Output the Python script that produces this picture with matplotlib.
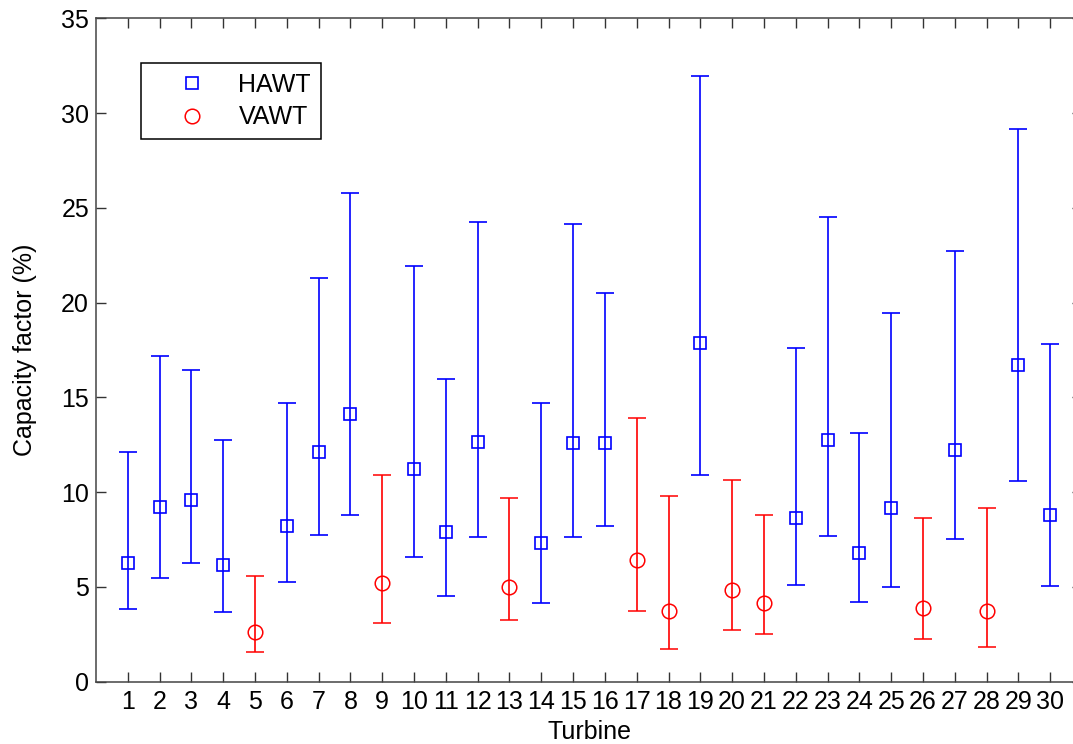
import matplotlib
matplotlib.use('Agg')
import matplotlib.pyplot as plt

# 水平轴风机 (HAWT)
hawt_turbine = [1, 2, 3, 4, 6, 7, 8, 10, 11, 12, 14, 15, 16, 19, 22, 23, 24, 25, 27, 29, 30]
hawt_cf = [6.25, 9.20, 9.59, 6.16, 8.23, 12.12, 14.13, 11.22, 7.90, 12.67, 7.34,
           12.61, 12.61, 17.89, 8.66, 12.75, 6.79, 9.18, 12.23, 16.71, 8.80]
hawt_low = [3.84, 5.49, 6.28, 3.69, 5.28, 7.76, 8.80, 6.60, 4.51, 7.64, 4.17,
            7.62, 8.22, 10.89, 5.12, 7.67, 4.21, 4.98, 7.55, 10.59, 5.03]
hawt_high = [12.14, 17.19, 16.43, 12.77, 14.71, 21.30, 25.79, 21.94, 15.96, 24.24, 14.71,
             24.15, 20.51, 31.93, 17.59, 24.51, 13.12, 19.46, 22.73, 29.15, 17.84]

# 垂直轴风机 (VAWT)
vawt_turbine = [5, 9, 13, 17, 18, 20, 21, 26, 28]
vawt_cf = [2.61, 5.19, 5.00, 6.42, 3.75, 4.84, 4.17, 3.91, 3.71]
vawt_low = [1.57, 3.10, 3.26, 3.75, 1.73, 2.74, 2.52, 2.27, 1.85]
vawt_high = [5.58, 10.92, 9.69, 13.93, 9.80, 10.63, 8.80, 8.66, 9.15]

x_ticks = list(range(1, 31))
y_ticks = [0, 5, 10, 15, 20, 25, 30, 35]

plt.rcParams['font.family'] = ['Liberation Sans', 'DejaVu Sans']
fs = 18

W, H = 1073, 744
fig = plt.figure(figsize=(W / 100, H / 100), dpi=100)
ax = fig.add_axes([96 / W, 62.3 / H, 986 / W, 663.4 / H])

# 误差棒
err_h = [[c - l for c, l in zip(hawt_cf, hawt_low)],
         [h - c for c, h in zip(hawt_cf, hawt_high)]]
err_v = [[c - l for c, l in zip(vawt_cf, vawt_low)],
         [h - c for c, h in zip(vawt_cf, vawt_high)]]

ax.errorbar(hawt_turbine, hawt_cf, yerr=err_h, fmt='s', color='#0000ff',
            mfc='none', mec='#0000ff', ms=8, mew=1.2, elinewidth=1.2,
            capsize=6.8, capthick=1.2)
ax.errorbar(vawt_turbine, vawt_cf, yerr=err_v, fmt='o', color='#ff0000',
            mfc='none', mec='#ff0000', ms=10.5, mew=1.1, elinewidth=1.2,
            capsize=6.8, capthick=1.2)

ax.set_xlim(0, 31)
ax.set_ylim(0, 35)
ax.set_xticks(x_ticks)
ax.set_yticks(y_ticks)
ax.tick_params(direction='in', length=7, width=1, colors='#333333',
               top=True, right=True, labelsize=fs, labelcolor='black')
ax.tick_params(axis='x', pad=6)
ax.tick_params(axis='y', pad=5)
for sp in ax.spines.values():
    sp.set_color('#444444')
    sp.set_linewidth(1.1)

ax.set_xlabel('Turbine', fontsize=fs, labelpad=4)
ax.set_ylabel('Capacity factor (%)', fontsize=fs, labelpad=17)

# 图例只显示标记
h1, = ax.plot([], [], 's', mfc='none', mec='#0000ff', ms=8, mew=1.2)
h2, = ax.plot([], [], 'o', mfc='none', mec='#ff0000', ms=10.5, mew=1.1)
leg = ax.legend([h1, h2], ['HAWT', 'VAWT'], loc='upper left',
                bbox_to_anchor=(141 / W, 1 - 62.7 / H), bbox_transform=fig.transFigure,
                borderaxespad=0, fontsize=fs, handlelength=3.3, handletextpad=0.2,
                borderpad=0.4, labelspacing=0.35, fancybox=False, framealpha=1,
                numpoints=1)
leg.get_frame().set_edgecolor('black')
leg.get_frame().set_linewidth(1.1)

fig.savefig('out.png', dpi=100)
